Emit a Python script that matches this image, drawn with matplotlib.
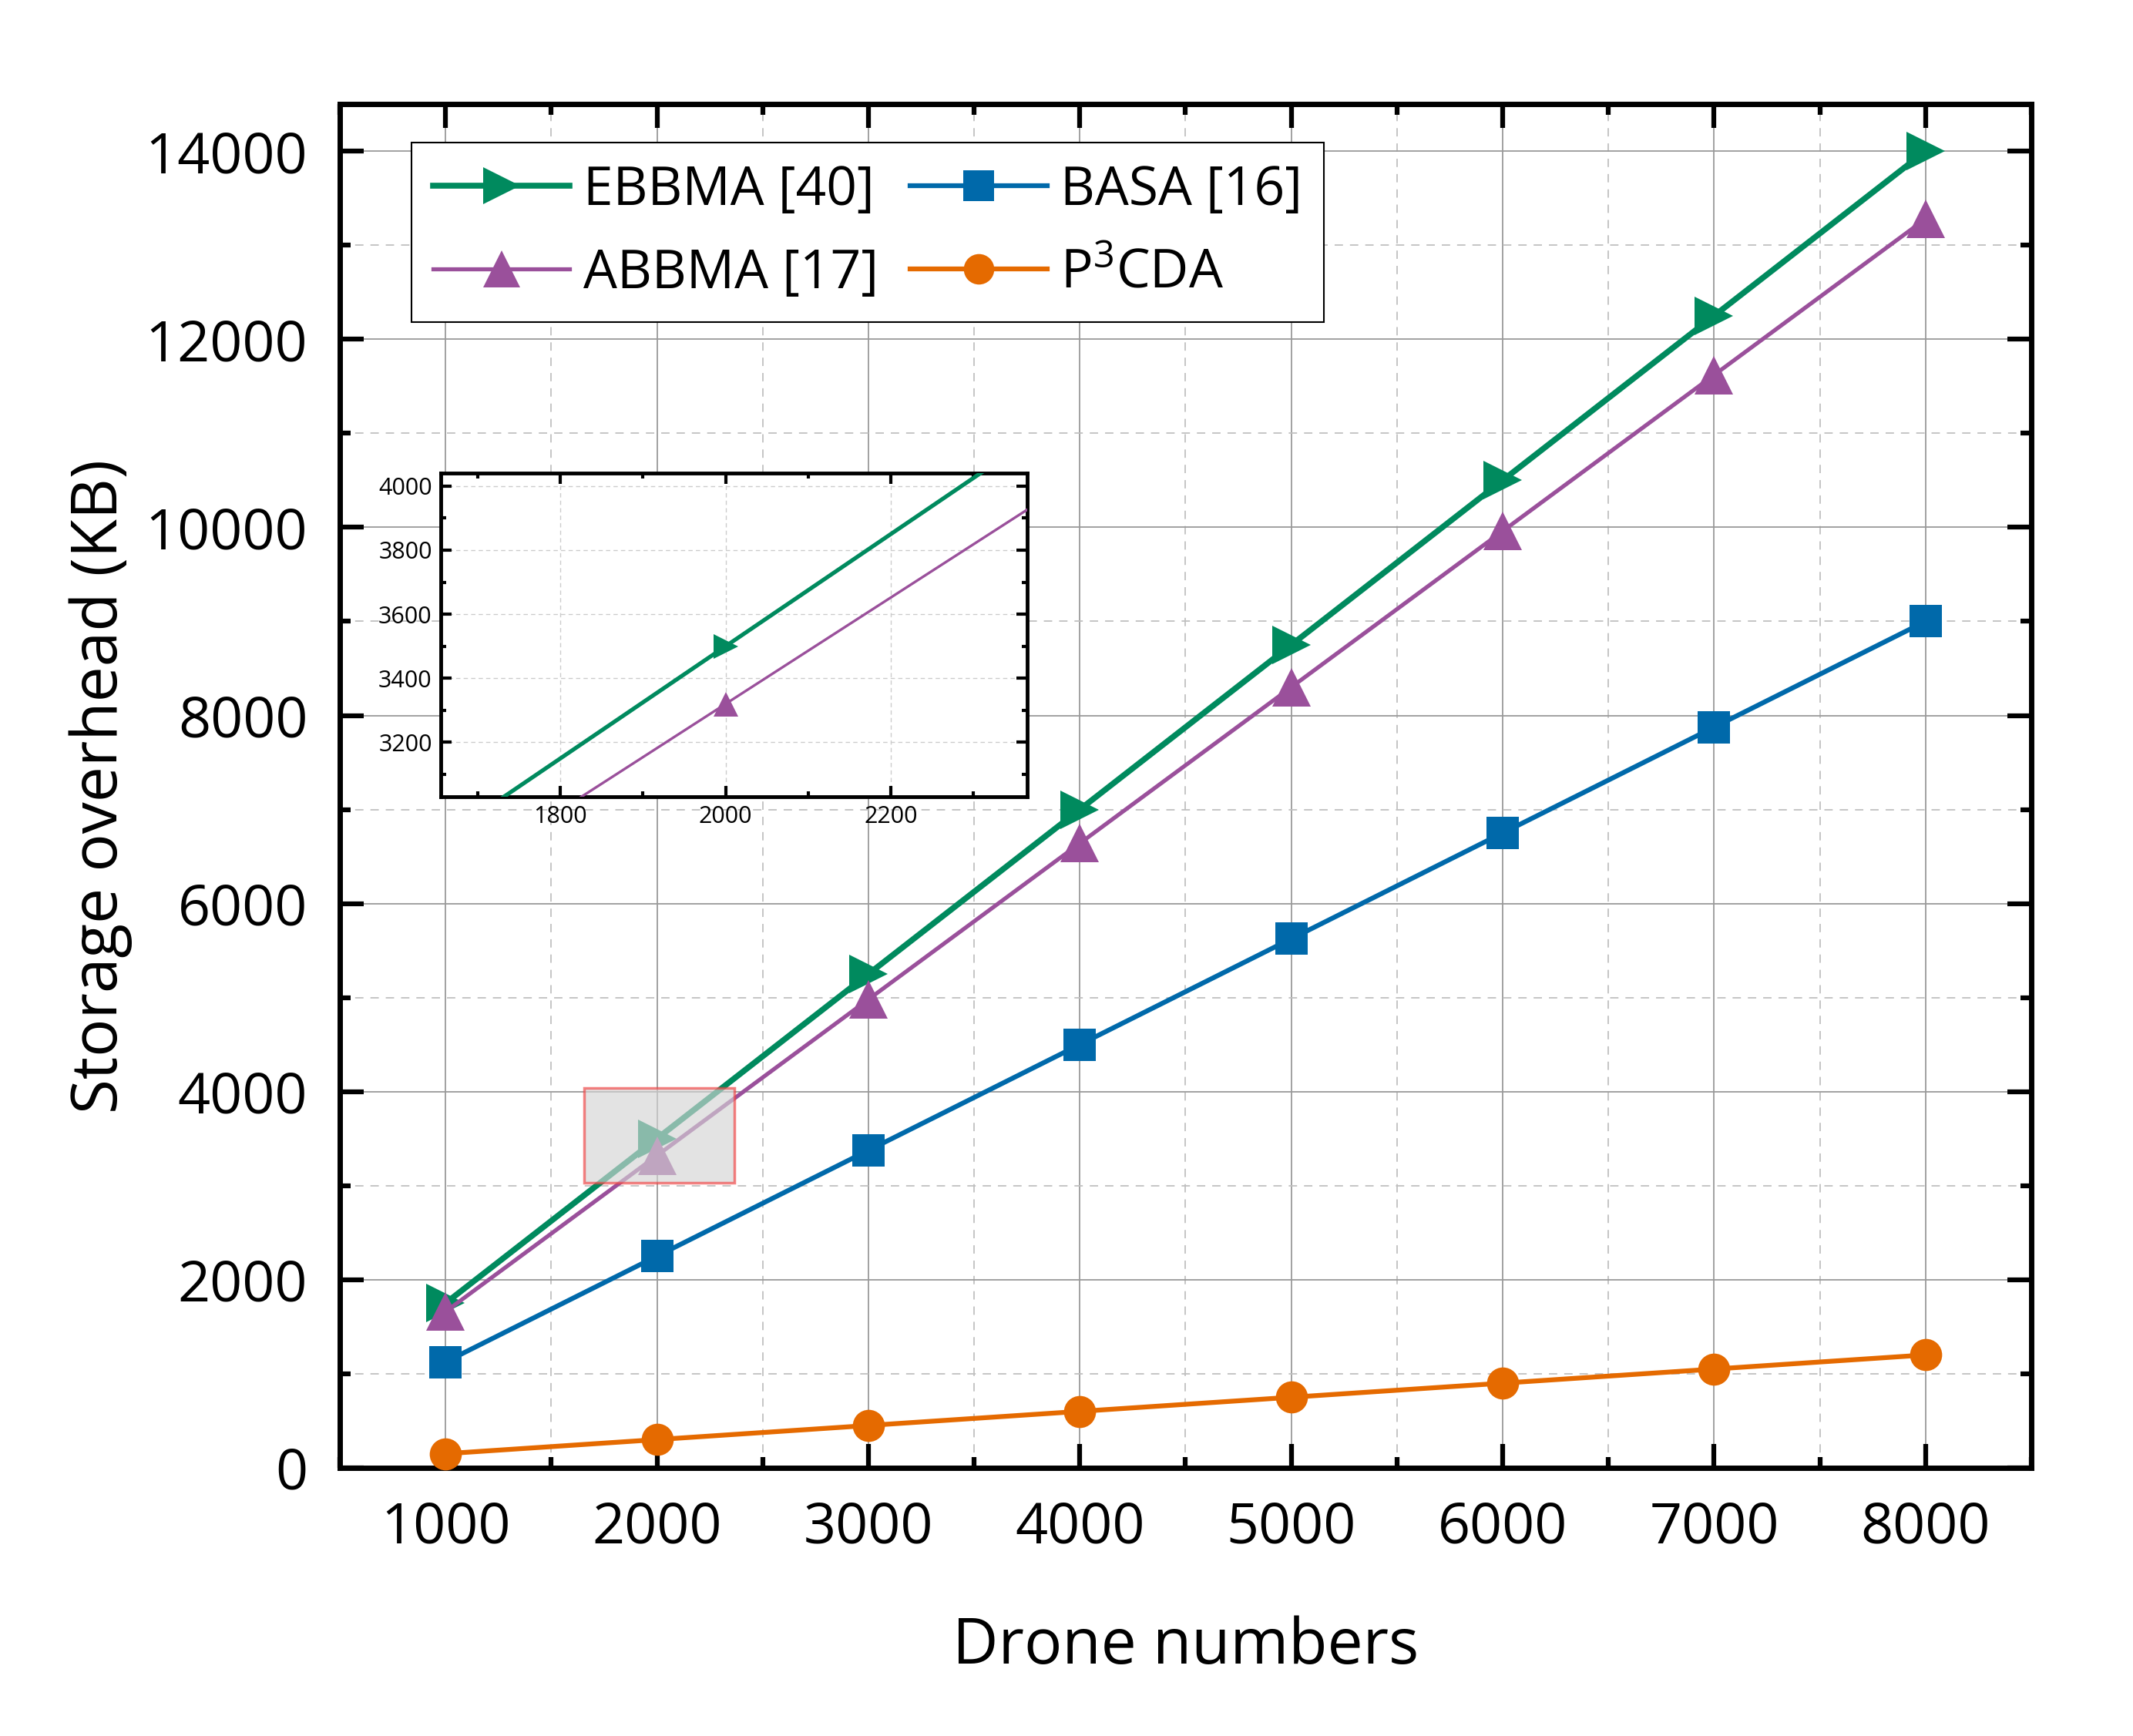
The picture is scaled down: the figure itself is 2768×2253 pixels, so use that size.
import matplotlib
matplotlib.use("Agg")
import matplotlib.pyplot as plt
from matplotlib.patches import Rectangle
from matplotlib.ticker import MultipleLocator

plt.rcParams['font.family'] = ['Open Sans', 'DejaVu Sans']
plt.rcParams['mathtext.fontset'] = 'custom'
plt.rcParams['mathtext.rm'] = 'Open Sans'
plt.rcParams['mathtext.it'] = 'Open Sans'

drones = [1000, 2000, 3000, 4000, 5000, 6000, 7000, 8000]
ebbma = [1750, 3500, 5250, 7000, 8750, 10500, 12250, 14000]
abbma = [1660, 3320, 4980, 6640, 8300, 9960, 11620, 13280]
basa = [1125, 2250, 3375, 4500, 5625, 6750, 7875, 9000]
p3cda = [150, 300, 450, 600, 750, 900, 1050, 1200]

labels = ['EBBMA [40]', 'ABBMA [17]', 'BASA [16]', 'P$^{3}$CDA']
colors = ['#008A5E', '#9A509B', '#0069AA', '#E56A00']
xticks = [1000, 2000, 3000, 4000, 5000, 6000, 7000, 8000]
yticks = [0, 2000, 4000, 6000, 8000, 10000, 12000, 14000]

fig = plt.figure(figsize=(27.68, 22.53), dpi=100)
ax = fig.add_axes([0.1593, 0.1545, 0.7930, 0.7855])

series = [ebbma, abbma, basa, p3cda]
markers = ['>', '^', 's', 'o']
msizes = [36, 36, 30, 30]
lws = [5.5, 3.8, 4.5, 4.5]
handles = []
for s, lab, c, m, ms, lw in zip(series, labels, colors, markers, msizes, lws):
    h, = ax.plot(drones, s, color=c, marker=m, markersize=ms, lw=lw, label=lab,
                 markeredgewidth=0, zorder=3, clip_on=False)
    handles.append(h)

ax.set_xlim(500, 8500)
ax.set_ylim(0, 14500)
ax.set_xticks(xticks)
ax.set_yticks(yticks)
ax.xaxis.set_minor_locator(MultipleLocator(500))
ax.yaxis.set_minor_locator(MultipleLocator(1000))
ax.grid(True, which='major', color='#9a9a9a', lw=1.3, ls='-', zorder=0)
ax.grid(True, which='minor', color='#c0c0c0', lw=1.3, ls=(0, (6, 5)), zorder=0)
ax.tick_params(which='both', direction='in', top=True, right=True, width=4.5, color='black')
ax.tick_params(which='major', length=22, labelsize=53, pad=30)
ax.tick_params(which='minor', length=10)
for sp in ax.spines.values():
    sp.set_linewidth(5)
ax.set_xlabel('Drone numbers', fontsize=59, labelpad=55)
ax.set_ylabel('Storage overhead (KB)', fontsize=59, labelpad=12)

leg = ax.legend(handles=handles, ncol=2, loc='upper left', bbox_to_anchor=(0.0426, 0.972),
                borderaxespad=0, fontsize=50, frameon=True, fancybox=False, edgecolor='black',
                handlelength=2.55, columnspacing=0.6, handletextpad=0.25,
                borderpad=0.4, labelspacing=0.55, markerscale=0.95)
leg.get_frame().set_linewidth(1.5)
leg.get_frame().set_alpha(1)

# zoom rectangle
x0, x1, y0, y1 = 1655, 2365, 3030, 4040
rect = Rectangle((x0, y0), x1 - x0, y1 - y0, facecolor='#d4d4d4', alpha=0.65,
                 edgecolor='#f04040', lw=2.5, zorder=5)
ax.add_patch(rect)

# inset
ins = fig.add_axes([0.2066, 0.5410, 0.2749, 0.1864])
ins.set_facecolor('white')
for s, c, m, lw in zip([ebbma, abbma], colors[:2], markers[:2], [3.8, 2.4]):
    ins.plot(drones, s, color=c, marker=m, markersize=23, lw=lw, markeredgewidth=0, zorder=3)
ins.set_xlim(x0, x1)
ins.set_ylim(y0, y1)
ins.set_xticks([1800, 2000, 2200])
ins.set_yticks([3200, 3400, 3600, 3800, 4000])
ins.xaxis.set_minor_locator(MultipleLocator(100))
ins.yaxis.set_minor_locator(MultipleLocator(100))
ins.grid(True, which='major', color='#cccccc', lw=1.0, ls=(0, (4, 3)))
ins.tick_params(which='both', direction='in', top=True, right=True, width=3)
ins.tick_params(which='major', length=10, labelsize=22, pad=8)
ins.tick_params(which='minor', length=5)
for sp in ins.spines.values():
    sp.set_linewidth(3.5)

fig.savefig('out.png', dpi=100, facecolor='white')
